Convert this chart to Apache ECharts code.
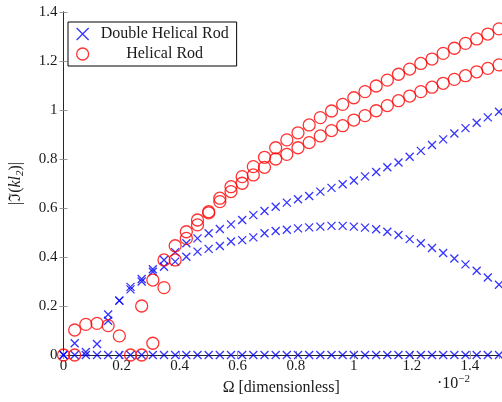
<!DOCTYPE html>
<html>
<head>
<meta charset="utf-8">
<script src="https://cdn.jsdelivr.net/npm/echarts@6/dist/echarts.min.js"></script>
<style>
  html, body { margin: 0; padding: 0; background: #fff; }
  #chart { width: 502px; height: 402px; }
</style>
</head>
<body>
<div id="chart"></div>
<script>
// Frequency grid (units of 1e-2)
const omega = [0, 0.0385, 0.0769, 0.1154, 0.1538, 0.1923, 0.2308, 0.2692, 0.3077, 0.3462,
  0.3846, 0.4231, 0.4615, 0.5, 0.5385, 0.5769, 0.6154, 0.6538, 0.6923, 0.7308,
  0.7692, 0.8077, 0.8462, 0.8846, 0.9231, 0.9615, 1.0, 1.0385, 1.0769, 1.1154,
  1.1538, 1.1923, 1.2308, 1.2692, 1.3077, 1.3462, 1.3846, 1.4231, 1.4615, 1.5];

// Double helical rod: three branches of |Im(k l2)|
const doubleZero = [0, 0, 0, 0, 0, 0, 0, 0, 0, 0, 0, 0, 0, 0, 0, 0, 0, 0, 0, 0,
  0, 0, 0, 0, 0, 0, 0, 0, 0, 0, 0, 0, 0, 0, 0, 0, 0, 0, 0, 0];
const doubleUpper = [0, 0.048, 0.012, 0.045, 0.165, 0.222, 0.278, 0.31, 0.35, 0.388,
  0.42, 0.456, 0.476, 0.497, 0.514, 0.533, 0.551, 0.571, 0.588, 0.605,
  0.622, 0.636, 0.649, 0.667, 0.682, 0.697, 0.712, 0.729, 0.747, 0.766,
  0.786, 0.809, 0.833, 0.857, 0.880, 0.904, 0.926, 0.948, 0.970, 0.993];
const doubleLower = [null, null, null, null, 0.14, 0.222, 0.268, 0.30, 0.34, 0.36,
  0.381, 0.401, 0.422, 0.433, 0.445, 0.463, 0.469, 0.480, 0.497, 0.506,
  0.511, 0.517, 0.521, 0.524, 0.527, 0.527, 0.524, 0.520, 0.513, 0.503,
  0.490, 0.473, 0.456, 0.437, 0.416, 0.394, 0.370, 0.344, 0.316, 0.287];

// Helical rod: two branches
const helicalA = [0, 0.102, 0.125, 0.129, 0.12, 0.078, 0, 0.2, 0.306, 0.388,
  0.446, 0.503, 0.551, 0.585, 0.64, 0.687, 0.728, 0.769, 0.807, 0.846,
  0.878, 0.907, 0.939, 0.969, 0.996, 1.023, 1.050, 1.075, 1.098, 1.122,
  1.146, 1.167, 1.19, 1.208, 1.231, 1.252, 1.272, 1.29, 1.31, 1.331];
const helicalB = [null, 0, null, null, null, null, null, 0, 0.048, 0.275,
  0.388, 0.476, 0.531, 0.58, 0.626, 0.667, 0.701, 0.735, 0.766, 0.80,
  0.819, 0.846, 0.867, 0.894, 0.916, 0.936, 0.959, 0.977, 0.997, 1.018,
  1.038, 1.057, 1.075, 1.093, 1.109, 1.125, 1.140, 1.156, 1.170, 1.184];

const xTicks = [0, 0.2, 0.4, 0.6, 0.8, 1, 1.2, 1.4];
const yTicks = [0, 0.2, 0.4, 0.6, 0.8, 1, 1.2, 1.4];

function pairs(ys) {
  const out = [];
  ys.forEach((y, i) => { if (y !== null) out.push([omega[i], y]); });
  return out;
}

const FONT = 'Liberation Serif';
const INK = '#1a1a1a';
const crossPath = 'path://M0,0L10,10M10,0L0,10';
const crossStyle = { color: 'rgba(0,0,0,0)', borderColor: '#0000ff', borderWidth: 1.3 };
const circleStyle = { color: 'rgba(0,0,0,0)', borderColor: '#ff0000', borderWidth: 1.3 };

function fmt(v) { return String(Math.round(v * 10) / 10); }

const chart = echarts.init(document.getElementById('chart'), null, { renderer: 'canvas' });

const tickStyle = { show: true, inside: true, length: 4, lineStyle: { color: '#9a9a9a', width: 1 } };
const lineStyle = { show: true, lineStyle: { color: '#262626', width: 1 } };

chart.setOption({
  animation: false,
  backgroundColor: '#ffffff',
  grid: { left: 63, right: 3, top: 12, bottom: 47 },
  legend: {
    left: 68, top: 22,
    orient: 'vertical',
    backgroundColor: '#ffffff',
    borderColor: '#000000',
    borderWidth: 1,
    borderRadius: 0,
    padding: [4, 8, 4, 8],
    itemGap: 4,
    itemWidth: 14, itemHeight: 12,
    formatter: name => '{c|' + name + '}',
    textStyle: {
      fontFamily: FONT, fontSize: 16, color: INK,
      rich: { c: { fontFamily: FONT, fontSize: 16, color: INK, width: 140, align: 'center', height: 20 } }
    },
    data: [
      { name: 'Double Helical Rod', icon: crossPath, itemStyle: crossStyle },
      { name: 'Helical Rod', icon: 'circle', itemStyle: circleStyle }
    ]
  },
  xAxis: [{
    type: 'value', min: 0, max: 1.5, interval: 0.2,
    name: 'Ω [dimensionless]', nameLocation: 'middle', nameGap: 25,
    nameTextStyle: { fontFamily: FONT, fontSize: 16, color: INK },
    axisLine: lineStyle, axisTick: tickStyle, splitLine: { show: false },
    axisLabel: { fontFamily: FONT, fontSize: 15, color: INK, margin: 4, showMaxLabel: false,
      formatter: v => xTicks.some(t => Math.abs(t - v) < 1e-9) ? fmt(v) : '' }
  }, {
    type: 'value', min: 0, max: 1.5, interval: 0.2, position: 'top',
    axisLine: lineStyle, axisTick: tickStyle, splitLine: { show: false }, axisLabel: { show: false }
  }],
  yAxis: [{
    type: 'value', min: 0, max: 1.4, interval: 0.2,
    name: '{t|\u007C\u2111(}{i|kl}{s|2}{t|)\u007C}', nameLocation: 'middle', nameGap: 38,
    nameTextStyle: { fontFamily: FONT, fontSize: 16, color: INK,
      rich: {
        t: { fontFamily: FONT, fontSize: 16, color: INK },
        i: { fontFamily: FONT, fontSize: 16, fontStyle: 'italic', color: INK },
        s: { fontFamily: FONT, fontSize: 11, fontStyle: 'italic', color: INK, padding: [8, 0, 0, 0] }
      } },
    axisLine: lineStyle, axisTick: tickStyle, splitLine: { show: false },
    axisLabel: { fontFamily: FONT, fontSize: 15, color: INK, margin: 6,
      formatter: v => yTicks.some(t => Math.abs(t - v) < 1e-9) ? fmt(v) : '' }
  }, {
    type: 'value', min: 0, max: 1.4, interval: 0.2, position: 'right',
    axisLine: lineStyle, axisTick: tickStyle, splitLine: { show: false }, axisLabel: { show: false }
  }],
  graphic: [{
    type: 'text', left: 437, top: 374,
    style: { text: '{a|\u00B710}{b|\u22122}', fill: INK,
      rich: { a: { fontFamily: FONT, fontSize: 16, fill: INK },
              b: { fontFamily: FONT, fontSize: 11, fill: INK, padding: [0, 0, 9, 0] } } }
  }],
  series: [
    { name: 'Double Helical Rod', type: 'scatter', data: pairs(doubleZero), symbol: crossPath, symbolSize: 8, itemStyle: crossStyle, clip: false },
    { name: 'Double Helical Rod', type: 'scatter', data: pairs(doubleUpper), symbol: crossPath, symbolSize: 8, itemStyle: crossStyle, clip: false },
    { name: 'Double Helical Rod', type: 'scatter', data: pairs(doubleLower), symbol: crossPath, symbolSize: 8, itemStyle: crossStyle, clip: false },
    { name: 'Helical Rod', type: 'scatter', data: pairs(helicalA), symbol: 'circle', symbolSize: 12, itemStyle: circleStyle, clip: false },
    { name: 'Helical Rod', type: 'scatter', data: pairs(helicalB), symbol: 'circle', symbolSize: 12, itemStyle: circleStyle, clip: false }
  ]
});
</script>
</body>
</html>
